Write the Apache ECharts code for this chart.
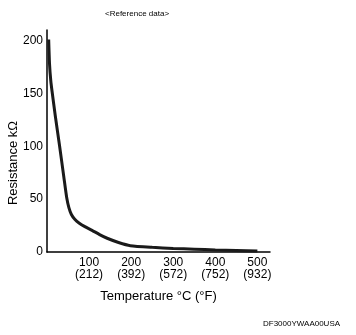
<!DOCTYPE html>
<html><head><meta charset="utf-8">
<script src="https://cdn.jsdelivr.net/npm/echarts@6/dist/echarts.min.js"></script>
<style>html,body{margin:0;padding:0;background:#fff}#c{width:356px;height:335px}</style>
</head><body><div id="c"></div>
<script>
const temperatureC = [4, 6, 9, 12, 20, 30, 40, 47, 52, 58, 66, 76, 90, 107, 125, 143, 170, 198, 250, 300, 350, 400, 450, 500];
const resistanceK = [201, 178, 162, 152, 128, 100, 71, 51, 42, 35.5, 31, 27.5, 24, 20.5, 16.5, 13, 9, 6, 4.4, 3.4, 2.7, 2, 1.5, 1];
const xTicksC = [100, 200, 300, 400, 500];
const xTicksF = ['212', '392', '572', '752', '932'];
const yTicks = [0, 50, 100, 150, 200];

const chart = echarts.init(document.getElementById('c'), null, {renderer: 'canvas'});
const font = '"Liberation Sans", Arial, sans-serif';
chart.setOption({
  animation: false,
  backgroundColor: '#fff',
  textStyle: {fontFamily: font},
  grid: {left: 47, right: 86, top: 30, bottom: 83, containLabel: false, outerBoundsMode: 'none'},
  graphic: [
    {type: 'text', left: 105, top: 10, style: {text: '<Reference data>', font: '8px ' + font, fill: '#000'}},
    {type: 'text', left: 263, top: 320, style: {text: 'DF3000YWAA00USA', font: '8px ' + font, fill: '#000'}},
    {type: 'text', x: 13, y: 163, rotation: Math.PI / 2,
     style: {text: 'Resistance kΩ', font: '13px ' + font, fill: '#000', align: 'center', verticalAlign: 'middle'}}
  ],
  xAxis: {
    type: 'value', min: 0, max: 530, interval: 100,
    axisLine: {show: true, lineStyle: {color: '#000', width: 1.5}},
    axisTick: {show: false},
    splitLine: {show: false},
    axisLabel: {
      color: '#000', fontSize: 12, lineHeight: 12, margin: 5, fontFamily: font,
      formatter: v => { const i = xTicksC.indexOf(v); return i >= 0 ? xTicksC[i] + '\n(' + xTicksF[i] + ')' : ''; }
    },
    name: 'Temperature °C (°F)', nameLocation: 'middle', nameGap: 38,
    nameTextStyle: {color: '#000', fontSize: 13, fontFamily: font}
  },
  yAxis: {
    type: 'value', min: 0, max: 210, interval: 50,
    axisLine: {show: true, lineStyle: {color: '#000', width: 1.5}},
    axisTick: {show: false},
    splitLine: {show: false},
    axisLabel: {
      color: '#000', fontSize: 12, margin: 4, fontFamily: font,
      formatter: v => yTicks.indexOf(v) >= 0 ? String(v) : ''
    }
  },
  series: [{
    type: 'line', smooth: 0.2, symbol: 'none',
    lineStyle: {color: '#1a1a1a', width: 3},
    data: temperatureC.map((t, i) => [t, resistanceK[i]])
  }]
});
</script></body></html>
